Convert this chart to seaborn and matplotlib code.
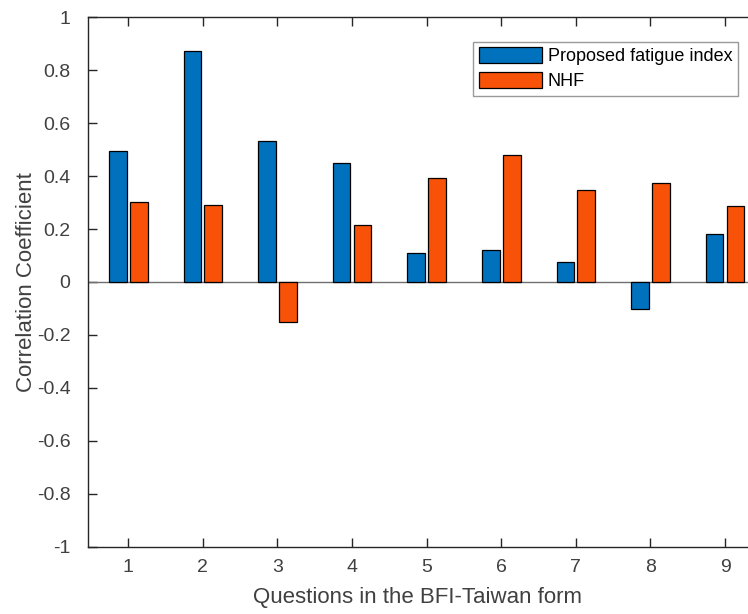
import numpy as np
import pandas as pd
import seaborn as sns
import matplotlib
matplotlib.use("Agg")
import matplotlib.pyplot as plt

questions = ["1", "2", "3", "4", "5", "6", "7", "8", "9"]
proposed = [0.494, 0.873, 0.533, 0.451, 0.108, 0.122, 0.074, -0.102, 0.181]
nhf = [0.302, 0.291, -0.150, 0.215, 0.393, 0.480, 0.348, 0.373, 0.287]
series_names = ["Proposed fatigue index", "NHF"]
colors = ["#0072BD", "#F75208"]
yticks = [-1, -0.8, -0.6, -0.4, -0.2, 0, 0.2, 0.4, 0.6, 0.8, 1]

df = pd.DataFrame({
    "question": questions * 2,
    "series": [series_names[0]] * len(questions) + [series_names[1]] * len(questions),
    "value": proposed + nhf,
})

sns.set_theme(style="ticks")
plt.rcParams["font.family"] = ["Liberation Sans", "DejaVu Sans"]
plt.rcParams["axes.unicode_minus"] = False

fig = plt.figure(figsize=(7.48, 6.14), dpi=100)
ax = fig.add_axes([87.5 / 748, 67.5 / 614, (748 - 87.5) / 748, 529 / 614])

ax.axhline(0, color="#707070", lw=1.0, zorder=1)
sns.barplot(data=df, x="question", y="value", hue="series", order=questions,
            hue_order=series_names, palette=colors, width=0.56, gap=0.154,
            edgecolor="black", linewidth=0.9, saturation=1, ax=ax, zorder=2)

ax.set_xlim(-0.547, 8.308)
ax.set_ylim(-1, 1)
ax.set_yticks(yticks)
ax.set_yticklabels([f"{v:g}" for v in yticks])

sc = "#262626"
tc = "#404040"
for s in ["left", "top", "bottom"]:
    ax.spines[s].set_color(sc)
    ax.spines[s].set_linewidth(1.0)
ax.spines["right"].set_visible(False)
ax.tick_params(axis="x", direction="in", length=6.5, width=1.0, top=True,
               labelsize=14, labelcolor=tc, color=sc, pad=9.3)
ax.tick_params(axis="y", direction="in", length=6.5, width=1.0, right=False,
               labelsize=14, labelcolor=tc, color=sc, pad=12.3)

ax.set_xlabel("Questions in the BFI-Taiwan form", fontsize=16, color=tc)
ax.set_ylabel("Correlation Coefficient", fontsize=16, color=tc)
ax.xaxis.set_label_coords(0.5, -0.0775)
ax.yaxis.set_label_coords(-0.076, 0.5)

handles, labels = ax.get_legend_handles_labels()
leg = ax.legend(handles, labels, loc="upper right",
                bbox_to_anchor=(738 / 748, 1 - 41.7 / 614),
                bbox_transform=fig.transFigure, borderaxespad=0,
                fontsize=13, frameon=True, fancybox=False, framealpha=1,
                edgecolor="#999999", handlelength=3.5, handleheight=0.95,
                handletextpad=0.3, labelspacing=0.38, borderpad=0.32)
leg.get_frame().set_linewidth(1.0)
for t in leg.get_texts():
    t.set_color("black")

fig.savefig("out.png", dpi=100)
